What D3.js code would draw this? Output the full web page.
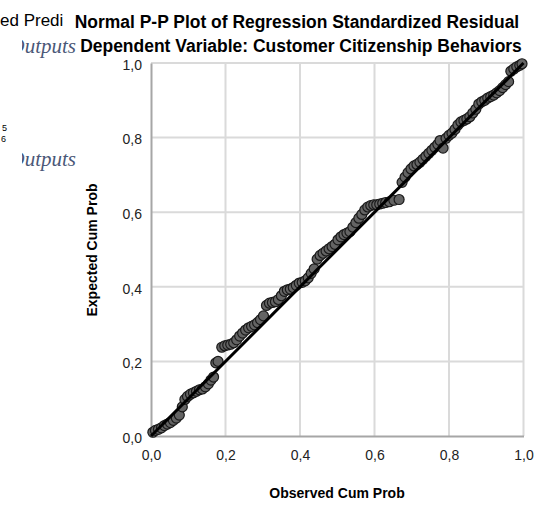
<!DOCTYPE html>
<html>
<head>
<meta charset="utf-8">
<script src="https://cdn.jsdelivr.net/npm/d3@7"></script>
<style>
  body { margin: 0; background: #fff; }
  svg { display: block; font-family: "Liberation Sans", Arial, sans-serif; }
</style>
</head>
<body>
<script>
// observed vs expected cumulative probability
const observed = [
  0.005, 0.012, 0.020, 0.028, 0.036, 0.044, 0.052, 0.060, 0.068, 0.076,
  0.084, 0.091, 0.098, 0.106, 0.114, 0.122, 0.130, 0.138, 0.146, 0.154,
  0.161, 0.168, 0.174, 0.180, 0.190, 0.198, 0.206, 0.214, 0.222, 0.230,
  0.238, 0.246, 0.254, 0.262, 0.270, 0.278, 0.286, 0.294, 0.302, 0.310,
  0.318, 0.326, 0.334, 0.342, 0.350, 0.358, 0.366, 0.374, 0.382, 0.390,
  0.398, 0.406, 0.414, 0.422, 0.430, 0.438, 0.446, 0.454, 0.462, 0.470,
  0.478, 0.486, 0.494, 0.502, 0.510, 0.518, 0.526, 0.534, 0.542, 0.550,
  0.558, 0.566, 0.574, 0.582, 0.590, 0.598, 0.606, 0.614, 0.622, 0.630,
  0.640, 0.652, 0.666, 0.674, 0.682, 0.690, 0.698, 0.706, 0.714, 0.722,
  0.730, 0.738, 0.746, 0.754, 0.762, 0.770, 0.776, 0.784, 0.792, 0.800,
  0.808, 0.816, 0.824, 0.832, 0.840, 0.848, 0.856, 0.864, 0.872, 0.880,
  0.888, 0.896, 0.904, 0.912, 0.920, 0.928, 0.936, 0.944, 0.952, 0.960,
  0.966, 0.974, 0.982, 0.990, 0.996
];
const expected = [
  0.010, 0.015, 0.018, 0.022, 0.028, 0.032, 0.036, 0.042, 0.048, 0.056,
  0.078, 0.098, 0.106, 0.112, 0.116, 0.120, 0.124, 0.126, 0.132, 0.140,
  0.150, 0.158, 0.196, 0.200, 0.238, 0.242, 0.244, 0.246, 0.250, 0.258,
  0.268, 0.276, 0.284, 0.290, 0.294, 0.298, 0.304, 0.312, 0.322, 0.350,
  0.356, 0.358, 0.360, 0.366, 0.376, 0.388, 0.392, 0.394, 0.398, 0.404,
  0.410, 0.412, 0.416, 0.424, 0.436, 0.448, 0.474, 0.484, 0.490, 0.496,
  0.502, 0.508, 0.514, 0.526, 0.534, 0.540, 0.544, 0.548, 0.560, 0.572,
  0.584, 0.594, 0.606, 0.614, 0.618, 0.620, 0.620, 0.622, 0.624, 0.626,
  0.628, 0.632, 0.634, 0.680, 0.694, 0.706, 0.716, 0.724, 0.728, 0.734,
  0.742, 0.750, 0.758, 0.766, 0.774, 0.782, 0.792, 0.772, 0.798, 0.806,
  0.812, 0.822, 0.834, 0.842, 0.846, 0.850, 0.856, 0.866, 0.876, 0.890,
  0.896, 0.900, 0.906, 0.910, 0.914, 0.920, 0.926, 0.934, 0.942, 0.950,
  0.978, 0.984, 0.990, 0.994, 0.998
];
const tickValues = [0, 0.2, 0.4, 0.6, 0.8, 1.0];
const titleLines = [
  "Normal P-P Plot of Regression Standardized Residual",
  "Dependent Variable: Customer Citizenship Behaviors"
];

const W = 545, H = 506;
const svg = d3.select("body").append("svg")
  .attr("width", W)
  .attr("height", H);

// bits of the surrounding document that show at the left edge
svg.append("text")
  .attr("x", 0).attr("y", 26)
  .attr("font-size", 17)
  .attr("fill", "#000")
  .text("ed Predi");

svg.append("clipPath").attr("id", "docclip")
  .append("rect").attr("x", 22).attr("y", 0).attr("width", 55).attr("height", H);

[53, 166].forEach(yy => {
  svg.append("text")
    .attr("clip-path", "url(#docclip)")
    .attr("x", 76).attr("y", yy)
    .attr("text-anchor", "end")
    .attr("font-family", "'Liberation Serif', 'DejaVu Serif', serif")
    .attr("font-style", "italic")
    .attr("font-size", 21)
    .attr("fill", "#4a5878")
    .text("Outputs");
});
svg.append("text").attr("x", 2).attr("y", 131).attr("font-size", 9).text("5");
svg.append("text").attr("x", 1).attr("y", 142).attr("font-size", 9).text("6");

// chart
const x = d3.scaleLinear().domain([0, 1]).range([151, 523.5]);
const y = d3.scaleLinear().domain([0, 1]).range([436, 63]);
const fmt = d => d3.format(".1f")(d).replace(".", ",");

// grid
svg.append("g")
  .selectAll("line")
  .data(tickValues.slice(1))
  .join("line")
    .attr("x1", d => x(d)).attr("x2", d => x(d))
    .attr("y1", y(0)).attr("y2", y(1))
    .attr("stroke", "#dadada")
    .attr("stroke-width", 2);

svg.append("g")
  .selectAll("line")
  .data(tickValues.slice(1))
  .join("line")
    .attr("x1", x(0)).attr("x2", x(1))
    .attr("y1", d => y(d)).attr("y2", d => y(d))
    .attr("stroke", "#dadada")
    .attr("stroke-width", 2);

// axes
const xAxis = d3.axisBottom(x).tickValues(tickValues).tickFormat(fmt).tickSize(0).tickPadding(14);
const yAxis = d3.axisLeft(y).tickValues(tickValues).tickFormat(fmt).tickSize(0).tickPadding(9);

const gx = svg.append("g").attr("transform", `translate(0,${y(0)})`).call(xAxis);
const gy = svg.append("g").attr("transform", `translate(${x(0)},0)`).call(yAxis);
[gx, gy].forEach(g => {
  g.select(".domain").attr("stroke", "#a6a6a6").attr("stroke-width", 2);
  g.selectAll("text")
    .attr("font-family", "'Liberation Sans', Arial, sans-serif")
    .attr("font-size", 14)
    .attr("fill", "#222");
});
gy.selectAll("text").attr("dy", "0.45em");

// points
const pts = observed.map((o, i) => ({ o, e: expected[i] }));
svg.append("g")
  .selectAll("circle")
  .data(pts)
  .join("circle")
    .attr("cx", d => x(d.o))
    .attr("cy", d => y(d.e))
    .attr("r", 5)
    .attr("fill", "#646464")
    .attr("stroke", "#1a1a1a")
    .attr("stroke-width", 1.2);

// reference line
svg.append("line")
  .attr("x1", x(0)).attr("y1", y(0))
  .attr("x2", x(1)).attr("y2", y(1))
  .attr("stroke", "#000")
  .attr("stroke-width", 3);

// titles
const tl = svg.append("g").attr("font-weight", "bold").attr("fill", "#000");
tl.selectAll("text")
  .data(titleLines)
  .join("text")
    .attr("x", (d, i) => i === 0 ? 297 : 301)
    .attr("y", (d, i) => i === 0 ? 28 : 52)
    .attr("text-anchor", "middle")
    .attr("font-size", 14)
    .text(d => d)
    .each(function(d, i) {
      const want = i === 0 ? 445 : 442;
      const w = this.getComputedTextLength();
      d3.select(this).attr("font-size", 14 * want / w);
    });

svg.append("text")
  .attr("x", 337).attr("y", 498)
  .attr("text-anchor", "middle")
  .attr("font-weight", "bold")
  .attr("font-size", 14)
  .text("Observed Cum Prob");

svg.append("text")
  .attr("transform", "translate(97,250) rotate(-90)")
  .attr("text-anchor", "middle")
  .attr("font-weight", "bold")
  .attr("font-size", 14)
  .text("Expected Cum Prob");
</script>
</body>
</html>
